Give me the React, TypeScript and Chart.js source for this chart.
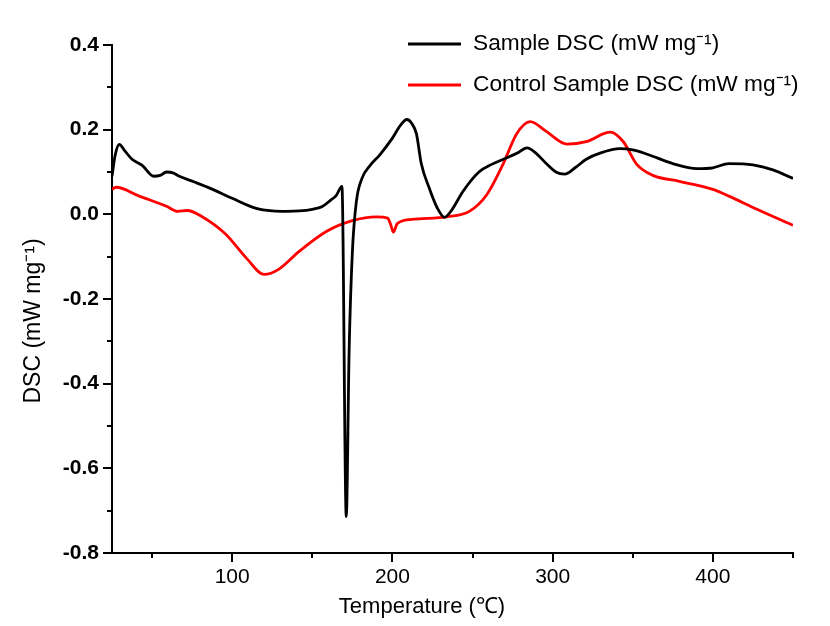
import React, { useEffect, useRef } from "react";
import { Chart, registerables } from "chart.js";

Chart.register(...registerables);

// Sample DSC (black)
const sampleTemp = [25, 27, 29.5, 33, 37.5, 44, 51, 55, 59, 63, 67, 76, 86, 100, 115, 125, 134, 142, 150, 156, 161, 165, 168.5, 171.2, 173, 175, 177.5, 181, 186, 192, 200, 205, 209, 212, 215, 218, 223, 228, 232.5, 237, 244, 254, 262, 271, 278, 284, 290, 296, 302, 307.5, 314, 321, 330, 342, 350, 359, 375, 390, 400, 410, 425, 437.5, 450];
const sampleDsc = [0.09, 0.14, 0.165, 0.15, 0.13, 0.115, 0.09, 0.092, 0.1, 0.098, 0.09, 0.077, 0.062, 0.038, 0.014, 0.008, 0.007, 0.008, 0.012, 0.018, 0.032, 0.045, 0.066, -0.714, -0.32, -0.09, 0.03, 0.085, 0.115, 0.14, 0.18, 0.21, 0.224, 0.215, 0.19, 0.12, 0.062, 0.015, -0.007, 0.01, 0.054, 0.1, 0.118, 0.133, 0.145, 0.157, 0.143, 0.12, 0.1, 0.095, 0.11, 0.13, 0.145, 0.155, 0.152, 0.142, 0.12, 0.108, 0.11, 0.12, 0.117, 0.105, 0.085];

// Control sample DSC (red)
const controlTemp = [25, 27.5, 42, 59, 66, 72, 81, 96, 109, 120, 129, 142, 159, 175, 190, 197, 199, 200.6, 203, 212, 234, 248, 259, 269, 277.5, 286, 296, 309, 321, 336, 344, 352.5, 362.5, 379, 400, 410, 427.5, 450];
const controlDsc = [0.059, 0.064, 0.043, 0.019, 0.007, 0.009, -0.005, -0.047, -0.104, -0.142, -0.13, -0.087, -0.04, -0.015, -0.006, -0.009, -0.025, -0.042, -0.022, -0.012, -0.006, 0.007, 0.047, 0.118, 0.19, 0.219, 0.196, 0.166, 0.172, 0.194, 0.172, 0.118, 0.092, 0.078, 0.059, 0.043, 0.012, -0.026];

const xMin = 25;
const xMax = 450;
const yMin = -0.8;
const yMax = 0.4;
const xTickLabels = [100, 200, 300, 400];
const xTickMarks = [50, 100, 150, 200, 250, 300, 350, 400, 450];
const yTickLabels = [-0.8, -0.6, -0.4, -0.2, 0.0, 0.2, 0.4];
const yTickMarks = [-0.8, -0.7, -0.6, -0.5, -0.4, -0.3, -0.2, -0.1, 0.0, 0.1, 0.2, 0.3, 0.4];

const seriesNames = ["Sample DSC (mW mg\u207B\u00B9)", "Control Sample DSC (mW mg\u207B\u00B9)"];
const xTitle = "Temperature (\u2103)";
const yTitle = "DSC (mW mg\u207B\u00B9)";

const FONT = "'Liberation Sans', Arial, sans-serif";

const near = (a: number, b: number) => Math.abs(a - b) < 1e-6;

export default function App() {
  const ref = useRef<HTMLCanvasElement | null>(null);

  useEffect(() => {
    document.body.style.margin = "0";
    const canvas = ref.current;
    if (!canvas) return;

    const decor = {
      id: "decor",
      afterDraw(chart: any) {
        const ctx = chart.ctx;
        const xs = chart.scales.x;
        const ys = chart.scales.y;
        const area = chart.chartArea;
        ctx.save();
        ctx.strokeStyle = "#000";
        ctx.lineWidth = 2;
        xTickMarks.forEach((v) => {
          const px = Math.round(xs.getPixelForValue(v));
          const len = xTickLabels.some((t) => near(t, v)) ? 9 : 5;
          ctx.beginPath();
          ctx.moveTo(px, area.bottom);
          ctx.lineTo(px, area.bottom + len);
          ctx.stroke();
        });
        yTickMarks.forEach((v) => {
          const py = Math.round(ys.getPixelForValue(v));
          const len = yTickLabels.some((t) => near(t, v)) ? 9 : 5;
          ctx.beginPath();
          ctx.moveTo(area.left - len, py);
          ctx.lineTo(area.left, py);
          ctx.stroke();
        });

        // axis titles
        ctx.fillStyle = "#000";
        ctx.font = `22px ${FONT}`;
        ctx.textAlign = "center";
        ctx.textBaseline = "middle";
        ctx.fillText(xTitle, 422, 607);
        ctx.save();
        ctx.font = `23px ${FONT}`;
        ctx.translate(34, 321);
        ctx.rotate(-Math.PI / 2);
        ctx.fillText(yTitle, 0, 0);
        ctx.restore();

        // legend
        const items = [
          { name: seriesNames[0], color: "#000000", y: 44 },
          { name: seriesNames[1], color: "#ff0000", y: 85 },
        ];
        ctx.font = `22.7px ${FONT}`;
        ctx.textAlign = "left";
        items.forEach((it) => {
          ctx.strokeStyle = it.color;
          ctx.lineWidth = 3;
          ctx.beginPath();
          ctx.moveTo(408, it.y);
          ctx.lineTo(461, it.y);
          ctx.stroke();
          ctx.fillStyle = "#000";
          ctx.fillText(it.name, 473, it.y);
        });
        ctx.restore();
      },
    };

    const chart = new Chart(canvas, {
      type: "line",
      data: {
        datasets: [
          {
            label: seriesNames[0],
            data: sampleTemp.map((t, i) => ({ x: t, y: sampleDsc[i] })),
            borderColor: "#000000",
            borderWidth: 2.8,
            pointRadius: 0,
            cubicInterpolationMode: "monotone",
            fill: false,
          },
          {
            label: seriesNames[1],
            data: controlTemp.map((t, i) => ({ x: t, y: controlDsc[i] })),
            borderColor: "#ff0000",
            borderWidth: 2.8,
            pointRadius: 0,
            cubicInterpolationMode: "monotone",
            fill: false,
          },
        ],
      },
      options: {
        animation: false,
        responsive: false,
        maintainAspectRatio: false,
        layout: { padding: { left: 0, top: 45, right: 37, bottom: 0 } },
        plugins: { legend: { display: false }, tooltip: { enabled: false } },
        scales: {
          x: {
            type: "linear",
            min: xMin,
            max: xMax,
            grid: { display: false, drawTicks: false },
            border: { display: true, color: "#000", width: 2 },
            afterFit: (s: any) => {
              s.height = 73;
            },
            ticks: {
              stepSize: 50,
              autoSkip: false,
              maxRotation: 0,
              padding: 12,
              color: "#000",
              font: { family: FONT, size: 21 },
              callback: (v: any) => (xTickLabels.some((t) => near(t, Number(v))) ? String(v) : ""),
            },
          },
          y: {
            type: "linear",
            min: yMin,
            max: yMax,
            grid: { display: false, drawTicks: false },
            border: { display: true, color: "#000", width: 2 },
            afterFit: (s: any) => {
              s.width = 112;
            },
            ticks: {
              stepSize: 0.1,
              autoSkip: false,
              padding: 13,
              color: "#000",
              font: { family: FONT, size: 21, weight: "bold" },
              callback: (v: any) => {
                const n = Number(v);
                return yTickLabels.some((t) => near(t, n)) ? n.toFixed(1) : "";
              },
            },
          },
        },
      },
      plugins: [decor],
    });
    return () => chart.destroy();
  }, []);

  return (
    <div style={{ width: 830, height: 626 }}>
      <canvas ref={ref} width={830} height={626} style={{ display: "block" }} />
    </div>
  );
}
